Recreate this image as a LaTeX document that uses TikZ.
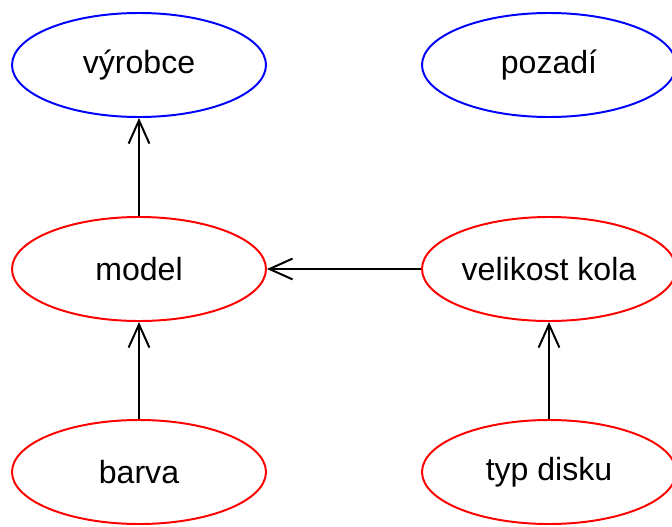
\documentclass[tikz,border=0pt]{standalone}
\usepackage{fontspec}
\setmainfont{Liberation Sans}
\usetikzlibrary{shapes.geometric,arrows.meta}

\begin{document}
\begin{tikzpicture}
\tikzstyle{entita}=[ellipse,draw,line width=1.4pt,minimum width=6.35cm,minimum height=2.6cm,inner sep=0pt,font=\fontsize{22.8}{27}\selectfont]
\tikzstyle{volna}=[entita,draw=blue]
\tikzstyle{zavisla}=[entita,draw=red]
\tikzstyle{hrana}=[line width=1.4pt,-{Straight Barb[length=0.58cm,width=0.52cm,line width=1.4pt]}]
\useasboundingbox (0,0) rectangle (16.8,13.15);
\node [volna] (vyrobce) at (3.475,11.525) {výrobce};
\node [volna] (pozadi) at (13.725,11.525) {pozadí};
\node [zavisla] (model) at (3.475,6.425) {model};
\node [zavisla] (velikost) at (13.725,6.425) {velikost kola};
\node [zavisla] (barva) at (3.475,1.35) {barva};
\node [zavisla] (typdisku) at (13.725,1.35) {typ disku};
\draw [hrana] (model) -- (vyrobce);
\draw [hrana] (barva) -- (model);
\draw [hrana] (velikost) -- (model);
\draw [hrana] (typdisku) -- (velikost);
\end{tikzpicture}
\end{document}
